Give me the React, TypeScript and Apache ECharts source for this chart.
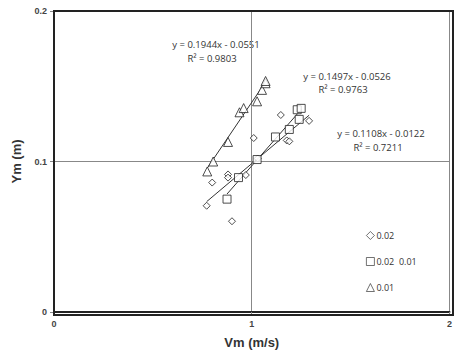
import React, { useEffect, useRef } from "react";
import * as echarts from "echarts";

// Data
const diamondX = [0.772, 0.80, 0.88, 0.88, 0.90, 0.97, 1.03, 1.01, 1.147, 1.177, 1.19, 1.29];
const diamondY = [0.0706, 0.086, 0.0914, 0.0893, 0.0603, 0.091, 0.102, 0.1156, 0.1309, 0.114, 0.1134, 0.127];
const squareX = [0.875, 0.933, 1.027, 1.12, 1.19, 1.24, 1.23, 1.25];
const squareY = [0.075, 0.0893, 0.1013, 0.1163, 0.1213, 0.128, 0.1344, 0.1353];
const triangleX = [0.775, 0.805, 0.88, 0.938, 0.959, 1.027, 1.052, 1.07, 1.07];
const triangleY = [0.0934, 0.100, 0.113, 0.1327, 0.1355, 0.140, 0.1476, 0.152, 0.1535];

const seriesNames = ["0.02", "0.02  0.01", "0.01"];
const fits = [
  { slope: 0.1108, intercept: -0.0122, r2: "0.7211" },
  { slope: 0.1497, intercept: -0.0526, r2: "0.9763" },
  { slope: 0.1944, intercept: -0.0551, r2: "0.9803" },
];
const xTicks = [0, 1, 2];
const yTicks = [0, 0.1, 0.2];

export default function App() {
  const ref = useRef<HTMLDivElement>(null);
  useEffect(() => {
    const chart = echarts.init(ref.current!, null, { renderer: "svg" });
    const xs = [diamondX, squareX, triangleX];
    const ys = [diamondY, squareY, triangleY];
    const symbols = ["diamond", "rect", "triangle"];
    const sizes = [7, 8, 9];
    const scatter = xs.map((xarr, i) => ({
      name: seriesNames[i],
      type: "scatter",
      symbol: symbols[i],
      symbolSize: sizes[i],
      itemStyle: { color: "#fff", borderColor: "#222", borderWidth: 1 },
      data: xarr.map((x, j) => [x, ys[i][j]]),
      z: 3,
    }));
    const trend = xs.map((xarr, i) => {
      const mn = Math.min(...xarr);
      const mx = Math.max(...xarr);
      const f = fits[i];
      return {
        name: "trend" + i,
        type: "line",
        showSymbol: false,
        lineStyle: { color: "#333", width: 1 },
        data: [
          [mn, f.slope * mn + f.intercept],
          [mx, f.slope * mx + f.intercept],
        ],
        z: 2,
      };
    });
    const fmt = (f: any) =>
      `y = ${f.slope}x - ${Math.abs(f.intercept).toFixed(4)}`;
    const eqFont = { fontFamily: "Open Sans", fontSize: 9.5, fill: "#333" };
    const eqPos = [
      [381, 133, 378, 147],
      [347, 76, 343, 89],
      [216, 44, 212, 58],
    ];
    const graphics: any[] = [];
    fits.forEach((f, i) => {
      const p = eqPos[i];
      graphics.push({
        type: "text",
        x: p[0],
        y: p[1],
        style: { ...eqFont, text: fmt(f), align: "center", verticalAlign: "middle" },
      });
      graphics.push({
        type: "text",
        x: p[2],
        y: p[3],
        style: { ...eqFont, text: `R² = ${f.r2}`, align: "center", verticalAlign: "middle" },
      });
    });
    chart.setOption({
      animation: false,
      grid: { left: 54, right: 2, top: 11, bottom: 39, show: false },
      xAxis: {
        type: "value",
        min: xTicks[0],
        max: xTicks[xTicks.length - 1],
        interval: 1,
        name: "Vm (m/s)",
        nameLocation: "middle",
        nameGap: 24,
        nameTextStyle: { fontFamily: "Liberation Sans", fontWeight: "bold", fontSize: 13, color: "#333" },
        axisLine: { show: true, onZero: false, lineStyle: { color: "#222", width: 2 } },
        axisTick: { show: true, length: 4, lineStyle: { color: "#888" } },
        axisLabel: { fontFamily: "Liberation Sans", fontWeight: "bold", fontSize: 9, color: "#444", margin: 7 },
        splitLine: { show: true, lineStyle: { color: "#888", width: 1 } },
      },
      yAxis: {
        type: "value",
        min: yTicks[0],
        max: yTicks[yTicks.length - 1],
        interval: 0.1,
        name: "Ym (m)",
        nameLocation: "middle",
        nameGap: 31,
        nameTextStyle: { fontFamily: "Liberation Sans", fontWeight: "bold", fontSize: 13, color: "#333" },
        axisLine: { show: true, onZero: false, lineStyle: { color: "#222", width: 2 } },
        axisTick: { show: true, length: 4, lineStyle: { color: "#888" } },
        axisLabel: { fontFamily: "Liberation Sans", fontWeight: "bold", fontSize: 9, color: "#444", margin: 7 },
        splitLine: { show: true, lineStyle: { color: "#888", width: 1 } },
      },
      legend: {
        data: seriesNames,
        orient: "vertical",
        left: 361,
        top: 226,
        itemGap: 17,
        itemWidth: 8,
        itemHeight: 8,
        itemStyle: { borderWidth: 0.8 },
        textStyle: { fontFamily: "Open Sans", fontSize: 9, color: "#333", padding: [0, 0, 0, -3] },
      },
      graphic: [
        {
          type: "rect",
          shape: { x: 54, y: 11, width: 399, height: 304 },
          style: { fill: "none", stroke: "#222", lineWidth: 2 },
          silent: true,
          z: 10,
        },
        ...graphics,
      ],
      series: [...trend, ...scatter],
    });
    return () => chart.dispose();
  }, []);
  return (
    <div
      ref={ref}
      style={{ position: "absolute", left: 0, top: 0, width: 455, height: 354 }}
    />
  );
}
